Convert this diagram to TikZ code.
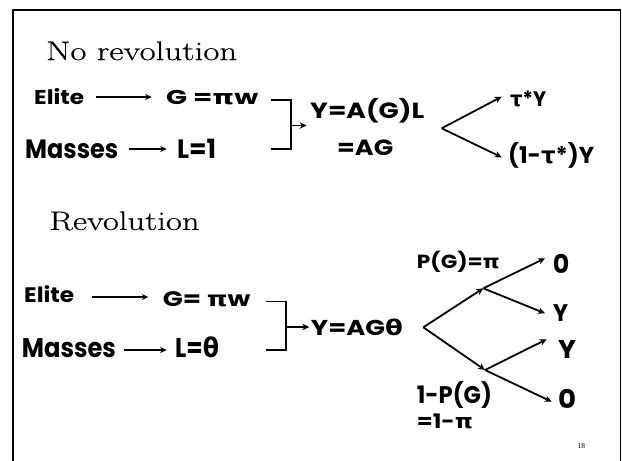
\documentclass[tikz,border=0pt]{standalone}
\usepackage{fontspec}
\usetikzlibrary{arrows.meta}
\newfontfamily\labfont{Poppins}
\newfontfamily\gkfont{DejaVu Sans}
\newfontfamily\numfont{Liberation Serif}
\newfontfamily\ttlfont{Latin Modern Roman}[FakeBold=0.4]
\newcommand\fsz[1]{\fontsize{#1}{#1}\selectfont}
\newcommand\fitw[3]{\resizebox{#1pt}{\height}{\fsz{#2}#3}}
\newcommand\gpi{{\gkfont π}}
\newcommand\gtau{{\gkfont τ}}
\newcommand\gth{{\gkfont θ}}
\tikzset{
  lab/.style={font=\labfont\bfseries, inner sep=0pt, anchor=west, text depth=0pt},
  ttl/.style={font=\ttlfont, inner sep=0pt, anchor=west, text depth=0pt},
  arr/.style={line width=1.4pt, -{Stealth[length=6.5pt,width=6pt]}},
  tarr/.style={line width=1.8pt, -{Stealth[length=7pt,width=6.5pt]}},
  brk/.style={line width=1.8pt},
  frm/.style={line width=2pt},
}
\begin{document}
\begin{tikzpicture}[x=1pt,y=-1pt]
\useasboundingbox (0,0) rectangle (622,461);
% frame
\draw[frm] (13,461) -- (13,10) -- (621,10);
\draw[line width=1pt] (620.5,10) -- (620.5,461);

% ---------- No revolution ----------
\node[ttl, text height=18.3pt] (title1) at (46,50.9) {\fitw{191}{26.8}{No revolution}};
\node[lab, text height=14pt] (elite1) at (34,97) {\fitw{50}{20}{Elite}};
\node[lab, text height=14pt] (g1) at (166,97.5) {\fitw{92}{20}{G =\gpi w}};
\node[lab, text height=18.5pt] (masses1) at (25,149) {\fitw{93}{26.5}{Masses}};
\node[lab, text height=18.5pt] (l1) at (177,149) {\fitw{39}{26.5}{L=1}};
\draw[arr, shorten <=11.3pt, shorten >=14.3pt] (elite1.east) -- (elite1.east -| g1.west);
\draw[arr, shorten <=10.3pt, shorten >=10.3pt] (masses1.east) -- (l1.west);

\coordinate (b1a) at (270.5,100);
\coordinate (b1b) at (291,100);
\coordinate (b1c) at (291,149.3);
\coordinate (b1d) at (270.5,149.3);
\coordinate (b1m) at (291,125.5);
\draw[brk] (b1a) -- (b1b) -- (b1c) -- (b1d);

\node[lab, text height=15.5pt] (yag1) at (310,111) {\fitw{114}{22}{Y=A(G)L}};
\node[lab, text height=15.5pt] (ag1) at (337,147.5) {\fitw{56}{22}{=AG}};
\draw[tarr, shorten >=3.3pt] (b1m) -- (b1m -| yag1.west);

\coordinate (f1) at (441.7,128.3);
\coordinate (f1u) at (501.7,96.7);
\coordinate (f1d) at (501.7,157.3);
\node[lab, text height=14.5pt] (tauy) at (510,99.5) {\fitw{36}{21}{\gtau*Y}};
\node[lab, text height=16pt] (onetauy) at (508,155.5) {\fitw{86}{23}{(1-\gtau*)Y}};
\draw[tarr] (f1) -- (f1u);
\draw[tarr] (f1) -- (f1d);

% ---------- Revolution ----------
\node[ttl, text height=18.3pt] (title2) at (49.3,220.8) {\fitw{150}{26.8}{Revolution}};
\node[lab, text height=15pt] (elite2) at (24,295) {\fitw{50}{21}{Elite}};
\node[lab, text height=14.5pt] (g2) at (162.7,299) {\fitw{87.5}{21}{G= \gpi w}};
\node[lab, text height=19pt] (masses2) at (21.7,348) {\fitw{94}{27}{Masses}};
\node[lab, text height=19pt] (l2) at (175,348) {\fitw{44}{27}{L=\gth}};
\draw[arr, shorten <=17.7pt, shorten >=14.4pt] ([yshift=-2pt]elite2.east) -- ([yshift=-2pt]elite2.east -| g2.west);
\draw[arr, shorten <=8.3pt, shorten >=8.3pt] ([yshift=-2pt]masses2.east) -- ([yshift=-2pt]masses2.east -| l2.west);

\coordinate (b2a) at (266,301.5);
\coordinate (b2b) at (286.3,301.5);
\coordinate (b2c) at (286.3,349.6);
\coordinate (b2d) at (266,349.6);
\coordinate (b2m) at (286.3,327);
\draw[brk] (b2a) -- (b2b) -- (b2c) -- (b2d);

\node[lab, text height=15pt] (yag2) at (310.7,327.5) {\fitw{92}{21.5}{Y=AG\gth}};
\draw[tarr, shorten >=1.4pt] (b2m) -- (b2m -| yag2.west);

\coordinate (f2) at (423.3,327.3);
\coordinate (ju) at (483.3,288.3);
\coordinate (jd) at (485,370);
\coordinate (ju1) at (545,258.3);
\coordinate (ju2) at (545,313.3);
\coordinate (jd1) at (546.7,339.3);
\coordinate (jd2) at (551.7,401.7);
\draw[tarr] (f2) -- (ju);
\draw[tarr] (f2) -- (jd);
\draw[tarr] (ju) -- (ju1);
\draw[tarr] (ju) -- (ju2);
\draw[tarr] (jd) -- (jd1);
\draw[tarr] (jd) -- (jd2);

\node[lab, text height=13pt] (pg) at (416.7,261.5) {\fitw{83}{19}{P(G)=\gpi}};
\node[lab, text height=18pt] (o1) at (552.7,264) {\fitw{16.5}{25.7}{0}};
\node[lab, text height=16.7pt] (o2) at (553,313.3) {\fitw{15}{24}{Y}};
\node[lab, text height=18pt] (o3) at (558,349) {\fitw{18}{25.7}{Y}};
\node[lab, text height=18pt] (o4) at (558,399) {\fitw{18}{25.7}{0}};
\node[lab, text height=16.7pt] (npg) at (416.7,395) {\fitw{75}{24}{1-P(G)}};
\node[lab, text height=13.5pt] (npi) at (416.7,421.5) {\fitw{56}{20}{=1-\gpi}};

\node[inner sep=0pt, text height=5pt, text depth=0pt] (pnum) at (581.3,445.8) {\numfont\fsz{7.5}18};
\end{tikzpicture}
\end{document}
